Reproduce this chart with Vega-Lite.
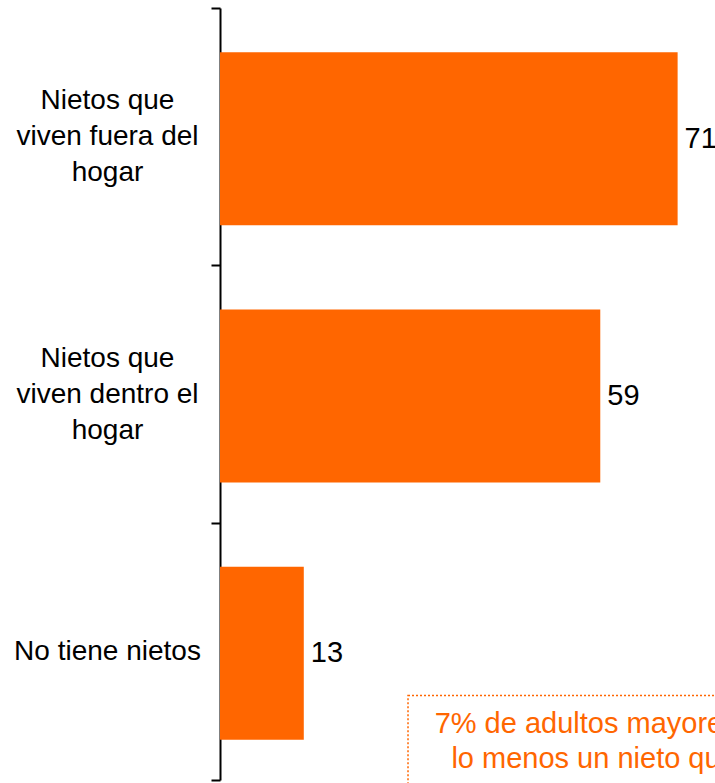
{
  "$schema": "https://vega.github.io/schema/vega-lite/v6.json",
  "autosize": {"type": "none"},
  "padding": {"left": 220, "top": 8, "right": 0, "bottom": 3},
  "width": 495,
  "height": 772,
  "background": "white",
  "config": {
    "view": {"stroke": null},
    "font": "Liberation Sans"
  },
  "data": {
    "values": [
      {"categoria": "Nietos que viven fuera del hogar", "porcentaje": 71},
      {"categoria": "Nietos que viven dentro el hogar", "porcentaje": 59},
      {"categoria": "No tiene nietos", "porcentaje": 13}
    ]
  },
  "layer": [
    {
      "mark": {"type": "bar", "color": "#FF6600", "height": {"band": 0.672}, "yOffset": 2},
      "encoding": {
        "y": {
          "field": "categoria",
          "type": "nominal",
          "sort": ["Nietos que viven fuera del hogar", "Nietos que viven dentro el hogar", "No tiene nietos"],
          "scale": {"paddingInner": 0, "paddingOuter": 0},
          "axis": {
            "title": null,
            "tickBand": "extent",
            "domainColor": "black",
            "domainWidth": 2,
            "tickColor": "black",
            "tickWidth": 2,
            "tickSize": 9,
            "labelAlign": "center",
            "labelBaseline": "middle",
            "labelPadding": 104,
            "labelOffset": -36,
            "labelFontSize": 28,
            "labelColor": "black",
            "labelLineHeight": 36,
            "labelFont": "Liberation Sans",
            "labelLimit": 0,
            "labelExpr": "datum.label == 'Nietos que viven fuera del hogar' ? ['Nietos que', 'viven fuera del', 'hogar'] : datum.label == 'Nietos que viven dentro el hogar' ? ['Nietos que', 'viven dentro el', 'hogar'] : [' ', datum.label, ' ']"
          }
        },
        "x": {
          "field": "porcentaje",
          "type": "quantitative",
          "scale": {"domain": [0, 76.8], "nice": false, "zero": true},
          "axis": null
        }
      }
    },
    {
      "mark": {"type": "text", "align": "left", "baseline": "middle", "dx": 7, "dy": 2, "fontSize": 29, "color": "black", "font": "Liberation Sans"},
      "encoding": {
        "y": {"field": "categoria", "type": "nominal", "sort": ["Nietos que viven fuera del hogar", "Nietos que viven dentro el hogar", "No tiene nietos"]},
        "x": {"field": "porcentaje", "type": "quantitative"},
        "text": {"field": "porcentaje", "type": "quantitative"}
      }
    },
    {
      "data": {"values": [{"nota": "recuadro"}]},
      "mark": {"type": "rect", "fill": "transparent", "stroke": "#FF6600", "strokeWidth": 1.5, "strokeDash": [2, 2]},
      "encoding": {
        "x": {"datum": 29.17, "type": "quantitative"},
        "x2": {"datum": 110},
        "y": {"datum": "No tiene nietos", "type": "nominal", "bandPosition": 0.672},
        "y2": {"datum": "No tiene nietos", "bandPosition": 1.4}
      }
    },
    {
      "data": {"values": [{"texto": "7% de adultos mayores tiene por"}]},
      "mark": {"type": "text", "align": "left", "baseline": "alphabetic", "fontSize": 29, "color": "#FF6600", "font": "Liberation Sans"},
      "encoding": {
        "x": {"datum": 33.3, "type": "quantitative"},
        "y": {"datum": "No tiene nietos", "type": "nominal", "bandPosition": 0.816},
        "text": {"field": "texto"}
      }
    },
    {
      "data": {"values": [{"texto": "lo menos un nieto que vive"}]},
      "mark": {"type": "text", "align": "left", "baseline": "alphabetic", "fontSize": 29, "color": "#FF6600", "font": "Liberation Sans"},
      "encoding": {
        "x": {"datum": 35.9, "type": "quantitative"},
        "y": {"datum": "No tiene nietos", "type": "nominal", "bandPosition": 0.952},
        "text": {"field": "texto"}
      }
    },
    {
      "data": {"values": [{"texto": "fuera"}]},
      "mark": {"type": "text", "align": "left", "baseline": "alphabetic", "fontSize": 29, "color": "#FF6600", "font": "Liberation Sans"},
      "encoding": {
        "x": {"datum": 55.7, "type": "quantitative"},
        "y": {"datum": "No tiene nietos", "type": "nominal", "bandPosition": 1.1},
        "text": {"field": "texto"}
      }
    }
  ]
}
